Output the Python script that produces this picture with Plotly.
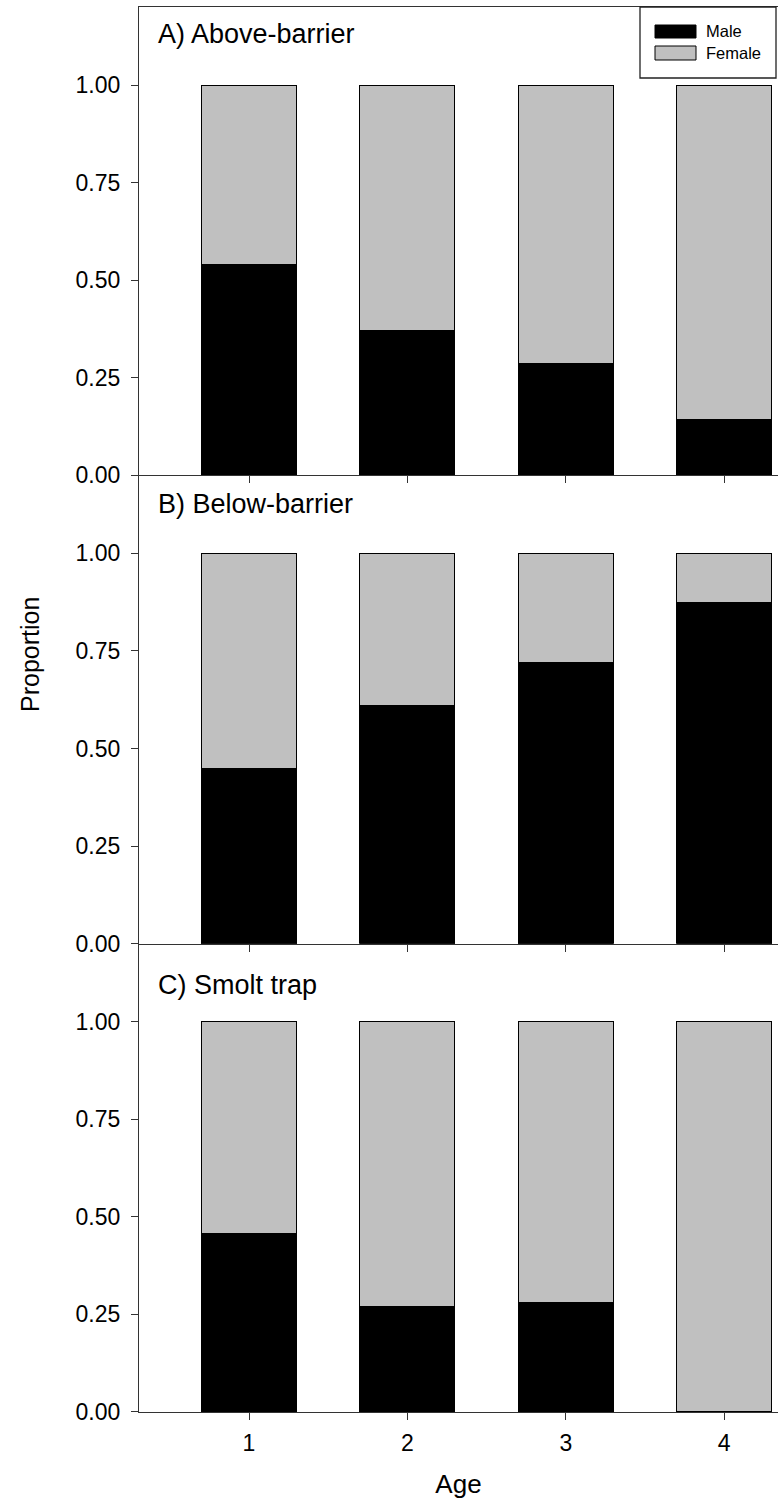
import plotly.graph_objects as go

# ---- data ----
ages = [1, 2, 3, 4]
age_ticks = ["1", "2", "3", "4"]
above_male = [0.54, 0.37, 0.286, 0.142]
below_male = [0.45, 0.61, 0.72, 0.875]
smolt_male = [0.458, 0.27, 0.28, 0.0]
panel_titles = ["A) Above-barrier", "B) Below-barrier", "C) Smolt trap"]
series_names = ["Male", "Female"]
y_ticks = [0, 0.25, 0.5, 0.75, 1.0]

male_color = "#000000"
female_color = "#c0c0c0"
FONT = "Liberation Sans, Arial, sans-serif"

W, H = 778, 1509
ML, MR, MT, MB = 139, 0, 7, 97
PW = W - ML - MR
PH = H - MT - MB

def px_x(px):
    return (px - ML) / PW

def px_y(py):
    return (H - MB - py) / PH

fig = go.Figure()

panels = [above_male, below_male, smolt_male]
for i, male in enumerate(panels):
    female = [round(1 - m, 4) for m in male]
    suffix = "" if i == 0 else str(i + 1)
    fig.add_trace(go.Bar(x=ages, y=male, name=series_names[0], width=0.6,
                         marker=dict(color=male_color, line=dict(color="black", width=1)),
                         xaxis="x" + suffix, yaxis="y" + suffix, showlegend=False))
    fig.add_trace(go.Bar(x=ages, y=female, name=series_names[1], width=0.6,
                         marker=dict(color=female_color, line=dict(color="black", width=1)),
                         xaxis="x" + suffix, yaxis="y" + suffix, showlegend=False))

domains = [[2/3, 1.0], [1/3, 2/3], [0.0, 1/3]]
xrange_ = [1 - 110 / 158.4, 1 + (778 - 249) / 158.4]
layout = dict(
    width=W, height=H,
    margin=dict(l=ML, r=MR, t=MT, b=MB),
    barmode="stack",
    plot_bgcolor="white", paper_bgcolor="white",
    font=dict(family=FONT, color="black"),
    showlegend=False,
)
for i in range(3):
    suffix = "" if i == 0 else str(i + 1)
    layout["xaxis" + suffix] = dict(
        domain=[0, 1], anchor="y" + suffix, range=xrange_,
        tickvals=ages, ticktext=age_ticks,
        showticklabels=(i == 2), ticks="outside", ticklen=7, tickwidth=1,
        tickcolor="#333", showline=True, linecolor="#333", linewidth=1.2,
        mirror=(i == 0), showgrid=False, zeroline=False,
        tickfont=dict(size=23, family=FONT), ticklabelstandoff=3,
    )
    layout["yaxis" + suffix] = dict(
        domain=domains[i], anchor="x" + suffix, range=[0, 1.2],
        tickvals=y_ticks, tickformat=".2f",
        ticks="outside", ticklen=7, tickwidth=1, tickcolor="#333",
        showline=True, linecolor="#333", linewidth=1.2,
        showgrid=False, zeroline=False,
        tickfont=dict(size=23, family=FONT), ticklabelstandoff=6,
    )
layout["xaxis3"]["title"] = dict(text="Age", font=dict(size=26, family=FONT), standoff=20)
fig.update_layout(**layout)

# panel titles
title_y = [1.13, 1.127, 1.093]
for i, t in enumerate(panel_titles):
    suffix = "" if i == 0 else str(i + 1)
    fig.add_annotation(text=t, xref="paper", yref="y" + suffix,
                       x=px_x(156), y=title_y[i], xanchor="left", yanchor="middle",
                       showarrow=False, font=dict(size=27, family=FONT, color="black"))

# y axis title
fig.add_annotation(text="Proportion", xref="paper", yref="paper",
                   x=px_x(30), y=px_y(655), textangle=-90, showarrow=False,
                   xanchor="center", yanchor="middle",
                   font=dict(size=25, family=FONT, color="black"))

# legend (box, swatches, labels)
fig.add_shape(type="rect", xref="paper", yref="paper",
              x0=px_x(640), x1=px_x(776), y0=px_y(78), y1=px_y(7),
              line=dict(color="#222", width=1.3), fillcolor="white")
legend_rows = [(series_names[0], male_color, 25, 38), (series_names[1], female_color, 46, 60)]
for name, col, y0, y1 in legend_rows:
    fig.add_shape(type="rect", xref="paper", yref="paper",
                  x0=px_x(655), x1=px_x(696), y0=px_y(y1), y1=px_y(y0),
                  line=dict(color="black", width=1), fillcolor=col)
    fig.add_annotation(text=name, xref="paper", yref="paper",
                       x=px_x(704), y=px_y((y0 + y1) / 2), xanchor="left", yanchor="middle",
                       showarrow=False, font=dict(size=16.5, family=FONT, color="black"))

post = ("document.body.style.margin='0';"
        "document.body.style.padding='0';"
        "document.documentElement.style.overflow='hidden';"
        "document.body.style.overflow='hidden';")
fig.write_html("out.html", post_script=post,
               config={"responsive": False, "displayModeBar": False})
